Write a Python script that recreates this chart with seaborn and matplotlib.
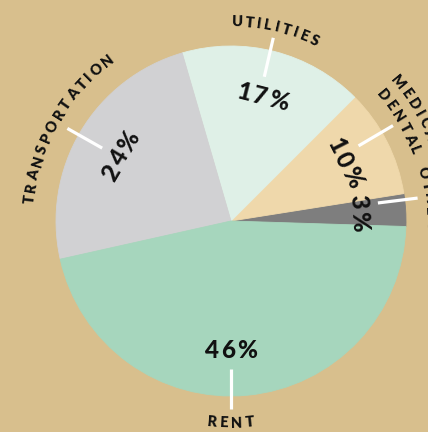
import numpy as np
import matplotlib
matplotlib.use("Agg")
import matplotlib.pyplot as plt
import seaborn as sns

# ---------------------------------------------
# Data
# ---------------------------------------------
categories = ["OTHER", "MEDICAL\nDENTAL", "UTILITIES", "TRANSPORTATION", "RENT"]
shares = [3, 10, 17, 24, 46]
colors = ["#7e7e7e", "#efd8ab", "#dff0e7", "#d1d1d3", "#a6d6bd"]

# label placement around the rim (degrees, radius in px)
label_angles = [7, 30.5, 77, 150.5, 270]
label_radii = [199, 197, 199, 202, 202]

BG = "#d8bf8d"

sns.set_style("white")
plt.rcParams["font.family"] = ["Lato", "DejaVu Sans"]

fig = plt.figure(figsize=(4.28, 4.32), dpi=100, facecolor=BG)
ax = fig.add_axes([0, 0, 1, 1])
ax.set_facecolor(BG)

cx, cy, R = 231, 211, 175
wedges, _ = ax.pie(shares, colors=colors, startangle=-1.8, counterclock=True,
                   center=(cx, cy), radius=R, frame=True,
                   wedgeprops=dict(linewidth=0.6))
for w, c in zip(wedges, colors):
    w.set_edgecolor(c)

ax.set_xlim(0, 428)
ax.set_ylim(0, 432)
ax.set_aspect("equal")
ax.axis("off")

renderer = fig.canvas.get_renderer()


def char_widths(text, size, weight):
    out = []
    for ch in text:
        t = ax.text(0, 0, ch, fontsize=size, fontweight=weight)
        out.append(t.get_window_extent(renderer).width)
        t.remove()
    return out


def curved_text(text, theta_c, r, size=10.5, tracking=3.0, top=True):
    widths = char_widths(text, size, "heavy")
    total = sum(widths) + tracking * (len(text) - 1)
    half = total / 2.0
    pos = 0.0
    for ch, w in zip(text, widths):
        s = pos + w / 2.0 - half
        pos += w + tracking
        if top:
            th = np.radians(theta_c) - s / r
            rot = np.degrees(th) - 90
        else:
            th = np.radians(theta_c) + s / r
            rot = np.degrees(th) + 90
        ax.text(cx + r * np.cos(th), cy + r * np.sin(th), ch, fontsize=size,
                fontweight="heavy", color="#111111", ha="center", va="center",
                rotation=rot, rotation_mode="anchor")


def tracked_text(text, x, y, rot, size=17.5, tracking=2.5):
    widths = char_widths(text, size, "black")
    total = sum(widths) + tracking * (len(text) - 1)
    half = total / 2.0
    ux, uy = np.cos(np.radians(rot)), np.sin(np.radians(rot))
    pos = 0.0
    for ch, w in zip(text, widths):
        s = pos + w / 2.0 - half
        pos += w + tracking
        ax.text(x + s * ux, y + s * uy, ch, fontsize=size, fontweight="black",
                color="#111111", ha="center", va="baseline", rotation=rot,
                rotation_mode="anchor")


for w, share, name, ang, lr in zip(wedges, shares, categories, label_angles, label_radii):
    mid = (w.theta1 + w.theta2) / 2.0
    if name == "RENT":
        mid = 270
    pr = 129
    rot = mid - 90
    if rot < -90:
        rot += 360
    if rot > 90:
        rot -= 180
    # shift baseline so the digits sit centred on the radius
    bx = cx + pr * np.cos(np.radians(mid)) + 8.5 * np.sin(np.radians(rot))
    by = cy + pr * np.sin(np.radians(mid)) - 8.5 * np.cos(np.radians(rot))
    tracked_text(f"{share}%", bx, by, rot)

    a = np.radians(ang)
    ax.plot([cx + 148 * np.cos(a), cx + 188 * np.cos(a)],
            [cy + 148 * np.sin(a), cy + 188 * np.sin(a)],
            color="white", lw=2.3, solid_capstyle="butt")

    top = 0 <= ang <= 180
    lines = name.split("\n")
    if len(lines) == 2:
        curved_text(lines[0], ang, lr + 20, top=top)
        curved_text(lines[1], ang, lr, top=top)
    else:
        curved_text(name, ang, lr, top=top)

plt.savefig("out.png", dpi=100, facecolor=BG)
